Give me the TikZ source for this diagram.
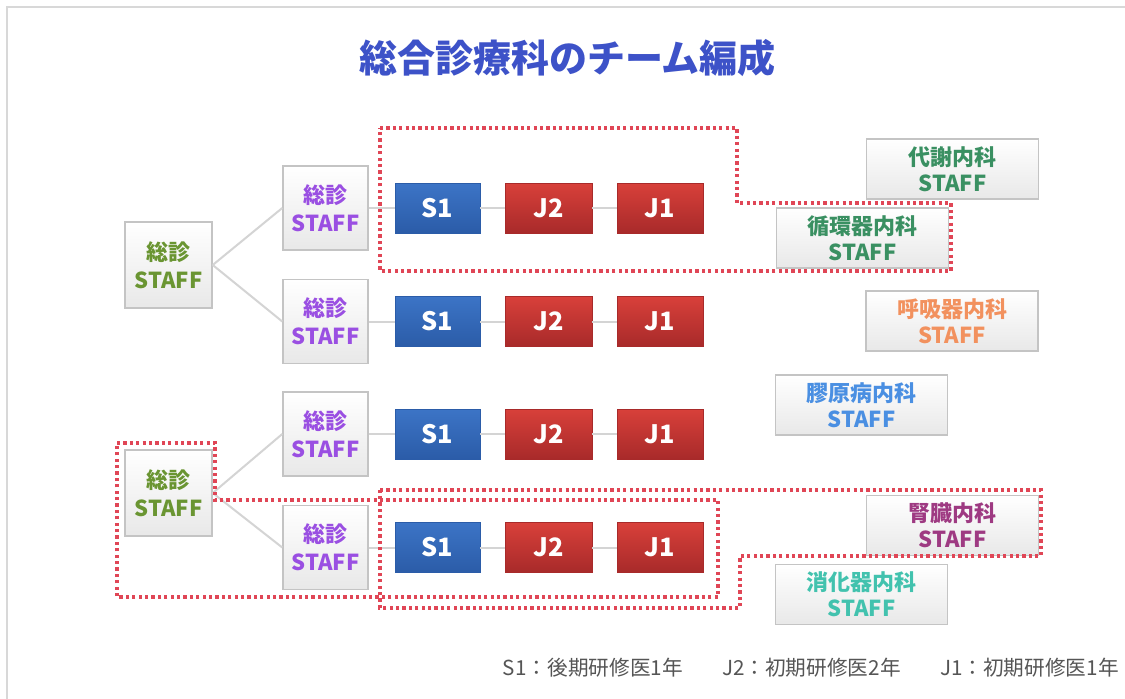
\documentclass[tikz,border=0pt]{standalone}
\usepackage{fontspec}
\setmainfont{Noto Sans CJK JP}
\definecolor{frame}{HTML}{D8D8D8}
\definecolor{titleblue}{HTML}{3D52C8}
\definecolor{dotred}{HTML}{E04656}
\definecolor{conn}{HTML}{D4D4D4}
\definecolor{boxline}{HTML}{C4C4C4}
\definecolor{rootgreen}{HTML}{6A9532}
\definecolor{midpurple}{HTML}{9A4FE2}
\definecolor{dgreen}{HTML}{3A9062}
\definecolor{dorange}{HTML}{F2915E}
\definecolor{dblue}{HTML}{4A8FE2}
\definecolor{dmagenta}{HTML}{9E3A82}
\definecolor{dteal}{HTML}{42C2AE}
\definecolor{sblue1}{HTML}{3C74C6}
\definecolor{sblue2}{HTML}{2B5CA8}
\definecolor{jred1}{HTML}{D8403A}
\definecolor{jred2}{HTML}{A82A2A}
\definecolor{legendgray}{HTML}{555555}
\tikzset{
  staffbox/.style={draw=boxline, line width=1.1pt, top color=white, bottom color=black!9,
    align=center, inner sep=0pt, font=\bfseries\fontsize{16.5}{21}\selectfont},
  rootbox/.style={staffbox, minimum width=87*0.75pt, minimum height=86*0.75pt, text=rootgreen},
  midbox/.style={staffbox, minimum width=85*0.75pt, minimum height=84*0.75pt, text=midpurple},
  deptbox/.style={staffbox, minimum width=172*0.75pt, minimum height=60*0.75pt,
    font=\bfseries\fontsize{16.5}{19.5}\selectfont},
  sbox/.style={draw=sblue2, line width=0.6pt, top color=sblue1, bottom color=sblue2,
    text=white, font=\bfseries\fontsize{19}{20}\selectfont, inner sep=0pt,
    minimum width=85*0.75pt, minimum height=50*0.75pt},
  jbox/.style={sbox, draw=jred2, top color=jred1, bottom color=jred2,
    minimum width=87*0.75pt},
  connline/.style={draw=conn, line width=1.5pt},
  dotline/.style={draw=dotred, line width=2.6pt, dash pattern=on 2.4pt off 2.4pt},
}
\begin{document}
\begin{tikzpicture}[x=0.75pt,y=-0.75pt]
\useasboundingbox (0,0) rectangle (1125,699);
\fill[white] (0,0) rectangle (1125,699);
\draw[frame, line width=1.5pt] (7,699) -- (7,7) -- (1125,7);

\node[text=titleblue, font=\bfseries\fontsize{28.5}{32}\selectfont] (title) at (567.5,58) {総合診療科のチーム編成};

% roots
\node[rootbox] (root1) at (168.5,265) {総診\\STAFF};
\node[rootbox] (root2) at (168.5,493) {総診\\STAFF};

% middle staff
\node[midbox] (mid1) at (325.5,208) {総診\\STAFF};
\node[midbox] (mid2) at (325.5,321.5) {総診\\STAFF};
\node[midbox] (mid3) at (325.5,434) {総診\\STAFF};
\node[midbox] (mid4) at (325.5,547.5) {総診\\STAFF};

% residents
\foreach \r/\y in {1/208,2/321.5,3/434,4/547.5}{
  \node[sbox] (s\r) at (437.5,\y) {S1};
  \node[jbox] (jb\r) at (548.5,\y) {J2};
  \node[jbox, minimum width=86*0.75pt] (ja\r) at (660,\y) {J1};
}

% connectors
\path[connline] (root1.east) -- (mid1.west);
\path[connline] (root1.east) -- (mid2.west);
\path[connline] (root2.east) -- (mid3.west);
\path[connline] (root2.east) -- (mid4.west);
\foreach \r in {1,2,3,4}{
  \path[connline] (mid\r.east) -- (s\r.west);
  \path[connline] (s\r.east) -- (jb\r.west);
  \path[connline] (jb\r.east) -- (ja\r.west);
}

% departments
\node[deptbox, text=dgreen] (metab) at (952.5,169) {代謝内科\\STAFF};
\node[deptbox, text=dgreen] (circ) at (862.5,238) {循環器内科\\STAFF};
\node[deptbox, text=dorange] (resp) at (952,321) {呼吸器内科\\STAFF};
\node[deptbox, text=dblue] (coll) at (861.5,405) {膠原病内科\\STAFF};
\node[deptbox, text=dmagenta] (kid) at (952.5,525.5) {腎臓内科\\STAFF};
\node[deptbox, text=dteal] (dig) at (861.5,594.5) {消化器内科\\STAFF};

% dotted groupings
\draw[dotline] (380,128) -- (737,128) -- (737,203) -- (951,203) -- (951,271) -- (380,271) -- cycle;
\draw[dotline] (117,443) -- (215,443) -- (215,500) -- (718,500) -- (718,597) -- (117,597) -- cycle;
\draw[dotline] (380,490) -- (1041,490) -- (1041,556) -- (740,556) -- (740,608) -- (380,608) -- cycle;

% legend
\node[anchor=east, text=legendgray, font=\fontsize{15.5}{17}\selectfont, inner sep=0pt] (legend) at (1119,668)
  {S1：後期研修医1年\hspace{1.9em}J2：初期研修医2年\hspace{1.9em}J1：初期研修医1年};
\end{tikzpicture}
\end{document}
